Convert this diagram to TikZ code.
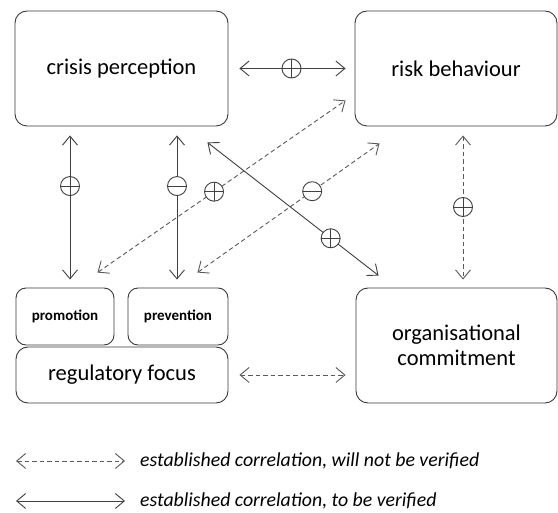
\documentclass[tikz,border=0pt]{standalone}
\usepackage{fontspec}
\setmainfont{Carlito}
\usetikzlibrary{arrows.meta,calc}

\definecolor{boxgray}{HTML}{3A3A3A}
\definecolor{linegray}{HTML}{404040}
\definecolor{dashgray}{HTML}{5A5A5A}

\begin{document}
\begin{tikzpicture}[x=1pt, y=-1pt,
    box/.style={draw=boxgray, rounded corners=12pt, line width=0.9pt, inner sep=0pt,
        align=center, font=\fontsize{22.5}{25}\selectfont},
    smallbox/.style={box, rounded corners=10pt, font=\fontsize{15}{17}\selectfont\bfseries},
    link/.style={draw=linegray, line width=0.9pt,
        {Straight Barb[length=9pt,width=15pt]}-{Straight Barb[length=9pt,width=15pt]}},
    dlink/.style={link, draw=dashgray, dash pattern=on 4.5pt off 3pt},
    bar/.style={draw=linegray, line width=0.9pt, solid, -, shorten <=0pt, shorten >=0pt},
    sign/.style={circle, draw=linegray, fill=white, solid, line width=0.9pt,
        minimum size=19pt, inner sep=0pt},
    plussign/.style={sign, path picture={\draw[bar]
        (path picture bounding box.north) -- (path picture bounding box.south)
        (path picture bounding box.west) -- (path picture bounding box.east);}},
    minussign/.style={sign, path picture={\draw[bar]
        (path picture bounding box.west) -- (path picture bounding box.east);}},
    legend/.style={anchor=west, inner sep=0pt, font=\fontsize{19.8}{22}\selectfont\itshape}]
    \useasboundingbox[fill=white] (0,0) rectangle (558,513);

    % concepts
    \node[box, minimum width=213pt, minimum height=115pt] (crisis) at (121.5,68.5) {crisis perception};
    \node[box, minimum width=202pt, minimum height=115pt] (risk) at (456,68.5) {risk behaviour};
    \node[smallbox, minimum width=98pt, minimum height=57pt] (promotion) at (65,316.5) {promotion};
    \node[smallbox, minimum width=100pt, minimum height=57pt] (prevention) at (178,316.5) {prevention};
    \node[box, minimum width=212pt, minimum height=56pt] (regfocus) at (122,375) {regulatory focus};
    \node[box, minimum width=201pt, minimum height=115pt] (orgcom) at (456.5,345.5) {organisational\\commitment};

    % correlations
    \draw[link, shorten <=11pt, shorten >=9pt] (crisis.east) -- node[plussign] (s1) {} (risk.west);
    \foreach \n/\dx/\s in {promotion/5/plussign, prevention/-1/minussign}
        \draw[link, shorten <=9pt, shorten >=8pt] ($(\n.north)+(\dx,0)$) coordinate (\n-top)
            (\n-top |- crisis.south) -- node[\s, pos=0.37] (s-\n) {} (\n-top);
    \draw[dlink] ($(promotion.north east)+(-17,-15)$) -- node[plussign, pos=0.47] (s4) {}
        ($(risk.south west)+(-9,-26)$);
    \draw[dlink] ($(prevention.north east)+(-31,-15)$) -- node[minussign, pos=0.63] (s5) {}
        ($(risk.south west)+(25,17)$);
    \draw[link] ($(crisis.south east)+(-21,16)$) -- node[plussign, pos=0.72] (s6) {}
        ($(orgcom.north west)+(23,-12)$);
    \draw[dlink, shorten <=9pt, shorten >=8pt] ($(risk.south)+(7,0)$) -- node[plussign] (s7) {}
        ($(orgcom.north)+(6.5,0)$);
    \draw[dlink, shorten <=11pt, shorten >=10pt] (regfocus.east) -- (regfocus.east -| orgcom.west);

    % legend
    \coordinate (l1a) at (16,461);
    \coordinate (l1b) at (125,461);
    \coordinate (l2a) at (16,501);
    \coordinate (l2b) at (125,501);
    \draw[dlink] (l1a) -- (l1b);
    \draw[link] (l2a) -- (l2b);
    \node[legend] (lg1) at (140,461) {established correlation, will not be verified};
    \node[legend] (lg2) at (140,501) {established correlation, to be verified};
\end{tikzpicture}
\end{document}
